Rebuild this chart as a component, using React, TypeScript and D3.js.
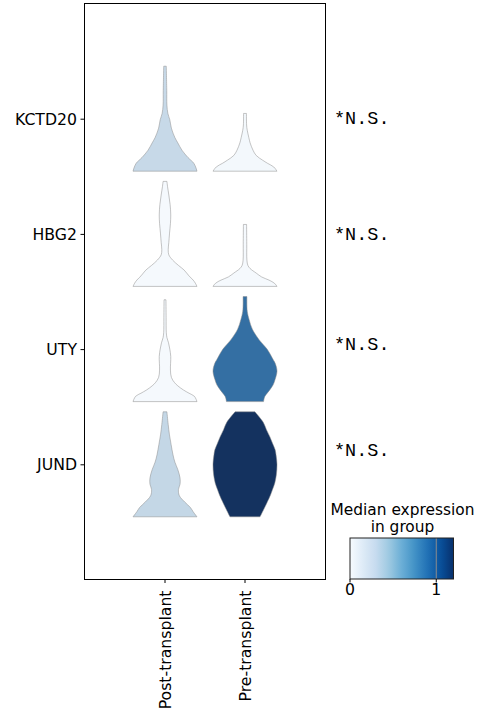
import React from 'react';
import * as d3 from 'd3';

const genes = ['KCTD20', 'HBG2', 'UTY', 'JUND'];
const groups = ['Post-transplant', 'Pre-transplant'];

// median expression per gene, one array per group
const medianPost = [0.32, 0.02, 0.02, 0.33];
const medianPre = [0.03, 0.02, 0.9, 1.25];

// violin outlines: [expression level relative to row max, density relative to widest]
const postProfiles: [number, number][][] = [
    [[0, 1], [0.03, 0.97], [0.076, 0.9], [0.13, 0.72], [0.2, 0.53], [0.27, 0.4], [0.32, 0.31], [0.41, 0.2], [0.49, 0.15], [0.55, 0.09], [0.63, 0.06], [0.77, 0.055], [1, 0.04]],
    [[0, 1], [0.03, 0.95], [0.06, 0.88], [0.1, 0.75], [0.155, 0.6], [0.2, 0.42], [0.25, 0.24], [0.3, 0.12], [0.35, 0.1], [0.42, 0.12], [0.5, 0.14], [0.6, 0.17], [0.68, 0.18], [0.78, 0.16], [0.87, 0.12], [0.95, 0.08], [1, 0.06]],
    [[0, 1], [0.05, 0.92], [0.08, 0.75], [0.11, 0.58], [0.15, 0.4], [0.18, 0.3], [0.23, 0.2], [0.3, 0.17], [0.43, 0.18], [0.5, 0.15], [0.56, 0.11], [0.61, 0.06], [0.66, 0.04], [0.8, 0.035], [0.97, 0.03]],
    [[0, 1], [0.048, 0.88], [0.086, 0.8], [0.14, 0.62], [0.2, 0.45], [0.26, 0.42], [0.31, 0.47], [0.37, 0.47], [0.45, 0.4], [0.52, 0.31], [0.59, 0.25], [0.69, 0.19], [0.78, 0.14], [0.88, 0.1], [1, 0.06]],
];
const preProfiles: [number, number][][] = [
    [[0, 1], [0.04, 0.9], [0.076, 0.7], [0.105, 0.55], [0.15, 0.35], [0.2, 0.25], [0.27, 0.16], [0.32, 0.12], [0.39, 0.07], [0.44, 0.05], [0.55, 0.045]],
    [[0, 1], [0.03, 0.92], [0.06, 0.75], [0.09, 0.52], [0.127, 0.35], [0.17, 0.16], [0.2, 0.09], [0.25, 0.06], [0.4, 0.055], [0.59, 0.05]],
    [[0, 0.58], [0.048, 0.62], [0.114, 0.78], [0.16, 0.88], [0.21, 0.94], [0.29, 1], [0.36, 0.95], [0.4, 0.88], [0.5, 0.69], [0.59, 0.44], [0.69, 0.23], [0.78, 0.13], [0.86, 0.07], [1, 0.06]],
    [[0, 0.47], [0.067, 0.58], [0.13, 0.68], [0.21, 0.8], [0.26, 0.86], [0.32, 0.93], [0.4, 0.98], [0.5, 1], [0.59, 0.97], [0.64, 0.94], [0.7, 0.86], [0.76, 0.78], [0.83, 0.67], [0.9, 0.57], [1, 0.31]],
];

const pvalLabels = ['*N.S.', '*N.S.', '*N.S.', '*N.S.'];
const labelOffsets = [0, 1, -4, -13];

const colorTicks = [0, 1];
const vmax = 1.2;

const W = 482, H = 712;
const frame = { left: 84.5, right: 325.5, top: 3.5, bottom: 579.5 };
const font = 'DejaVu Sans, Verdana, sans-serif';
const fs = 15.7;

// matplotlib Blues = linear between the 9 colorbrewer stops
const blues = d3.scaleLinear<string>()
    .domain(d3.range(9).map((i) => (i / 8) * vmax))
    .range(d3.schemeBlues[9])
    .clamp(true);

// seaborn desaturates violin fills (saturation=0.75)
const desat = (c: string) => {
    const h = d3.hsl(c);
    h.s *= 0.75;
    return h.formatHex();
};

export default function App() {
    const y = d3.scaleBand().domain(genes).range([4, 580]).paddingOuter(0.5).paddingInner(0);
    const x = d3.scaleBand().domain(groups).range([85, 325]).paddingOuter(0.5).paddingInner(0);
    const hw = x.step() * 0.4;

    const cbx = d3.scaleLinear().domain([0, vmax]).range([350, 453.5]);
    const cbTop = 538, cbBottom = 579;

    const violins: JSX.Element[] = [];
    genes.forEach((g, gi) => {
        const c = (y(g) as number) + y.bandwidth() / 2;
        const yv = d3.scaleLinear().domain([0, 1]).range([c + 52, c - 53]);
        [postProfiles[gi], preProfiles[gi]].forEach((prof, k) => {
            const cx = (x(groups[k]) as number) + x.bandwidth() / 2;
            const area = d3.area<[number, number]>()
                .y((d) => yv(d[0]))
                .x0((d) => cx - d[1] * hw)
                .x1((d) => cx + d[1] * hw)
                .curve(d3.curveCatmullRom.alpha(0.5));
            const med = k === 0 ? medianPost[gi] : medianPre[gi];
            violins.push(
                <path key={g + k} d={area(prof) || ''} fill={desat(blues(med))}
                      stroke="#8a8a8a" strokeWidth={0.5} />
            );
        });
    });

    const stops = d3.range(0, 1.0001, 0.05);

    return (
        <svg width={W} height={H} style={{ position: 'absolute', left: 0, top: 0 }}>
            <defs>
                <linearGradient id="cb" x1="0" x2="1" y1="0" y2="0">
                    {stops.map((t) => (
                        <stop key={t} offset={t} stopColor={blues(t * vmax)} />
                    ))}
                </linearGradient>
            </defs>
            <rect width={W} height={H} fill="#fff" />

            <g>{violins}</g>

            <rect x={frame.left} y={frame.top} width={frame.right - frame.left} height={frame.bottom - frame.top}
                  fill="none" stroke="#000" strokeWidth={1} />

            {genes.map((g) => {
                const c = (y(g) as number) + y.bandwidth() / 2;
                return (
                    <g key={g}>
                        <line x1={80.5} x2={frame.left} y1={c} y2={c} stroke="#000" />
                        <text x={77} y={c} dominantBaseline="central" textAnchor="end"
                              fontFamily={font} fontSize={fs}>{g}</text>
                    </g>
                );
            })}

            {groups.map((gr) => {
                const cx = (x(gr) as number) + x.bandwidth() / 2;
                return (
                    <g key={gr}>
                        <line x1={cx} x2={cx} y1={frame.bottom} y2={frame.bottom + 3.5} stroke="#000" />
                        <text transform={`translate(${cx},${frame.bottom + 11}) rotate(-90)`}
                              dominantBaseline="central" textAnchor="end"
                              fontFamily={font} fontSize={fs}>{gr}</text>
                    </g>
                );
            })}

            {genes.map((g, gi) => {
                const c = (y(g) as number) + y.bandwidth() / 2;
                return (
                    <text key={'p' + g} x={334} y={c + labelOffsets[gi]} dominantBaseline="central"
                          fontFamily="'Liberation Mono', 'Courier New', monospace" fontSize={18.5}>
                        {pvalLabels[gi]}
                    </text>
                );
            })}

            <text x={402.5} y={515} textAnchor="middle" fontFamily={font} fontSize={15.4}>Median expression</text>
            <text x={402.5} y={532} textAnchor="middle" fontFamily={font} fontSize={15.4}>in group</text>
            <rect x={cbx(0)} y={cbTop} width={cbx(vmax) - cbx(0)} height={cbBottom - cbTop} fill="url(#cb)" />
            <line x1={cbx(1)} x2={cbx(1)} y1={cbTop} y2={cbBottom} stroke="#8c8c8c" strokeWidth={1} />
            <rect x={cbx(0)} y={cbTop} width={cbx(vmax) - cbx(0)} height={cbBottom - cbTop}
                  fill="none" stroke="#222" strokeWidth={1} />
            {colorTicks.map((t) => (
                <g key={t}>
                    <line x1={cbx(t)} x2={cbx(t)} y1={cbBottom} y2={cbBottom + 3.5} stroke="#000" />
                    <text x={cbx(t)} y={595} textAnchor="middle" fontFamily={font} fontSize={fs}>{t}</text>
                </g>
            ))}
        </svg>
    );
}
